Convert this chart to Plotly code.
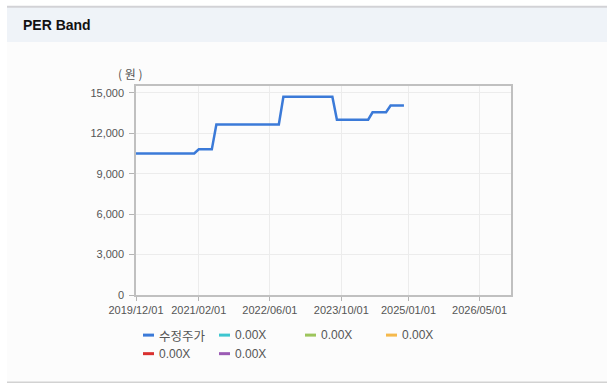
import plotly.graph_objects as go

# ---------------- data ----------------
dates = [
    "2019-12-01", "2020-01-01", "2020-02-01", "2020-03-01", "2020-04-01", "2020-05-01",
    "2020-06-01", "2020-07-01", "2020-08-01", "2020-09-01", "2020-10-01", "2020-11-01",
    "2020-12-01", "2021-01-01", "2021-02-01", "2021-03-01", "2021-04-01", "2021-05-01",
    "2021-06-01", "2021-07-01", "2021-08-01", "2021-09-01", "2021-10-01", "2021-11-01",
    "2021-12-01", "2022-01-01", "2022-02-01", "2022-03-01", "2022-04-01", "2022-05-01",
    "2022-06-01", "2022-07-01", "2022-08-01", "2022-09-01", "2022-10-01", "2022-11-01",
    "2022-12-01", "2023-01-01", "2023-02-01", "2023-03-01", "2023-04-01", "2023-05-01",
    "2023-06-01", "2023-07-01", "2023-08-01", "2023-09-01", "2023-10-01", "2023-11-01",
    "2023-12-01", "2024-01-01", "2024-02-01", "2024-03-01", "2024-04-01", "2024-05-01",
    "2024-06-01", "2024-07-01", "2024-08-01", "2024-09-01", "2024-10-01", "2024-11-01",
    "2024-12-01",
]
adj_price = [
    10500, 10500, 10500, 10500, 10500, 10500,
    10500, 10500, 10500, 10500, 10500, 10500,
    10500, 10500, 10800, 10800, 10800, 10800,
    12650, 12650, 12650, 12650, 12650, 12650,
    12650, 12650, 12650, 12650, 12650, 12650,
    12650, 12650, 12650, 14700, 14700, 14700,
    14700, 14700, 14700, 14700, 14700, 14700,
    14700, 14700, 14700, 13000, 13000, 13000,
    13000, 13000, 13000, 13000, 13000, 13550,
    13550, 13550, 13550, 14050, 14050, 14050,
    14050,
]
series_names = ["수정주가", "0.00X", "0.00X", "0.00X", "0.00X", "0.00X"]
series_colors = ["#3b7ad8", "#3ec6d0", "#9dc55c", "#f5b94c", "#d9302f", "#9b5bb4"]

x_tickvals = ["2019-12-01", "2021-02-01", "2022-06-01", "2023-10-01", "2025-01-01", "2026-05-01"]
x_ticktext = ["2019/12/01", "2021/02/01", "2022/06/01", "2023/10/01", "2025/01/01", "2026/05/01"]
y_tickvals = [0, 3000, 6000, 9000, 12000, 15000]
y_ticktext = ["0", "3,000", "6,000", "9,000", "12,000", "15,000"]
x_range = ["2019-12-01", "2026-12-01"]
y_range = [0, 15500]

# ---------------- layout helpers ----------------
W, H = 613, 387
L, R, T, B = 136, 511, 86, 295.5


def px(x):
    return (x - L) / (R - L)


def py(y):
    return (B - y) / (B - T)


FONT = "Liberation Sans, Arial, Noto Sans CJK KR, sans-serif"
KFONT = "Noto Sans CJK KR, Liberation Sans, sans-serif"

fig = go.Figure()

# price line
fig.add_trace(go.Scatter(
    x=dates, y=adj_price, mode="lines", name=series_names[0],
    line=dict(color=series_colors[0], width=2.5), showlegend=False,
    hoverinfo="x+y",
))
# PER band series (no values)
for nm, col in zip(series_names[1:], series_colors[1:]):
    fig.add_trace(go.Scatter(x=[], y=[], mode="lines", name=nm,
                             line=dict(color=col, width=2.5), showlegend=False))

shapes = []
annotations = []

# panel box background + header band
shapes.append(dict(type="rect", xref="paper", yref="paper", layer="below",
                   x0=px(7), x1=px(607), y0=py(382.5), y1=py(42),
                   fillcolor="#fcfcfc", line=dict(width=0)))
shapes.append(dict(type="rect", xref="paper", yref="paper", layer="below",
                   x0=px(7), x1=px(607), y0=py(42), y1=py(7),
                   fillcolor="#eff3f8", line=dict(width=0)))
shapes.append(dict(type="line", xref="paper", yref="paper", layer="below",
                   x0=px(7), x1=px(607), y0=py(6.5), y1=py(6.5),
                   line=dict(color="#d2d2d6", width=2)))
shapes.append(dict(type="line", xref="paper", yref="paper", layer="below",
                   x0=px(7), x1=px(607), y0=py(383), y1=py(383),
                   line=dict(color="#d2d2d2", width=1.5)))

annotations.append(dict(text="<b>PER Band</b>", xref="paper", yref="paper",
                        x=px(21), y=py(25), xanchor="left", yanchor="middle",
                        showarrow=False, font=dict(family=FONT, size=14, color="#111111")))
annotations.append(dict(text="( 원 )", xref="paper", yref="paper",
                        x=px(130), y=py(73), xanchor="center", yanchor="middle",
                        showarrow=False, font=dict(family=KFONT, size=12, color="#555555")))

# custom legend
legend_pos = [(143, 335.7), (219, 335.7), (305, 335.7), (386, 335.7),
              (143, 354.3), (219, 354.3)]
for (lx, ly), nm, col in zip(legend_pos, series_names, series_colors):
    shapes.append(dict(type="line", xref="paper", yref="paper",
                       x0=px(lx), x1=px(lx + 11), y0=py(ly), y1=py(ly),
                       line=dict(color=col, width=3)))
    annotations.append(dict(text=nm, xref="paper", yref="paper",
                            x=px(lx + 14), y=py(ly), xanchor="left", yanchor="middle",
                            showarrow=False,
                            font=dict(family=KFONT if nm == "수정주가" else FONT,
                                      size=12.5 if nm == "수정주가" else 12,
                                      color="#555555")))

fig.update_layout(
    width=W, height=H,
    margin=dict(l=L, r=W - R, t=T, b=H - B, pad=0),
    paper_bgcolor="#ffffff", plot_bgcolor="#ffffff",
    showlegend=False,
    shapes=shapes, annotations=annotations,
    xaxis=dict(type="date", range=x_range, tickvals=x_tickvals, ticktext=x_ticktext,
               showgrid=True, gridcolor="#ececec", gridwidth=1,
               showline=True, linecolor="#c0c0c0", linewidth=1.5, mirror=True,
               ticks="outside", ticklen=4, tickcolor="#b4b4b4",
               tickfont=dict(family=FONT, size=11, color="#555555"),
               zeroline=False, fixedrange=True),
    yaxis=dict(range=y_range, tickvals=y_tickvals, ticktext=y_ticktext,
               showgrid=True, gridcolor="#ececec", gridwidth=1,
               showline=True, linecolor="#c0c0c0", linewidth=1.5, mirror=True,
               ticks="outside", ticklen=5, tickcolor="#b4b4b4", ticklabelstandoff=3,
               tickfont=dict(family=FONT, size=11, color="#555555"),
               zeroline=False, fixedrange=True),
)

fig.write_html("out.html", config={"displayModeBar": False},
               post_script="document.body.style.margin='0';document.body.style.padding='0';")
